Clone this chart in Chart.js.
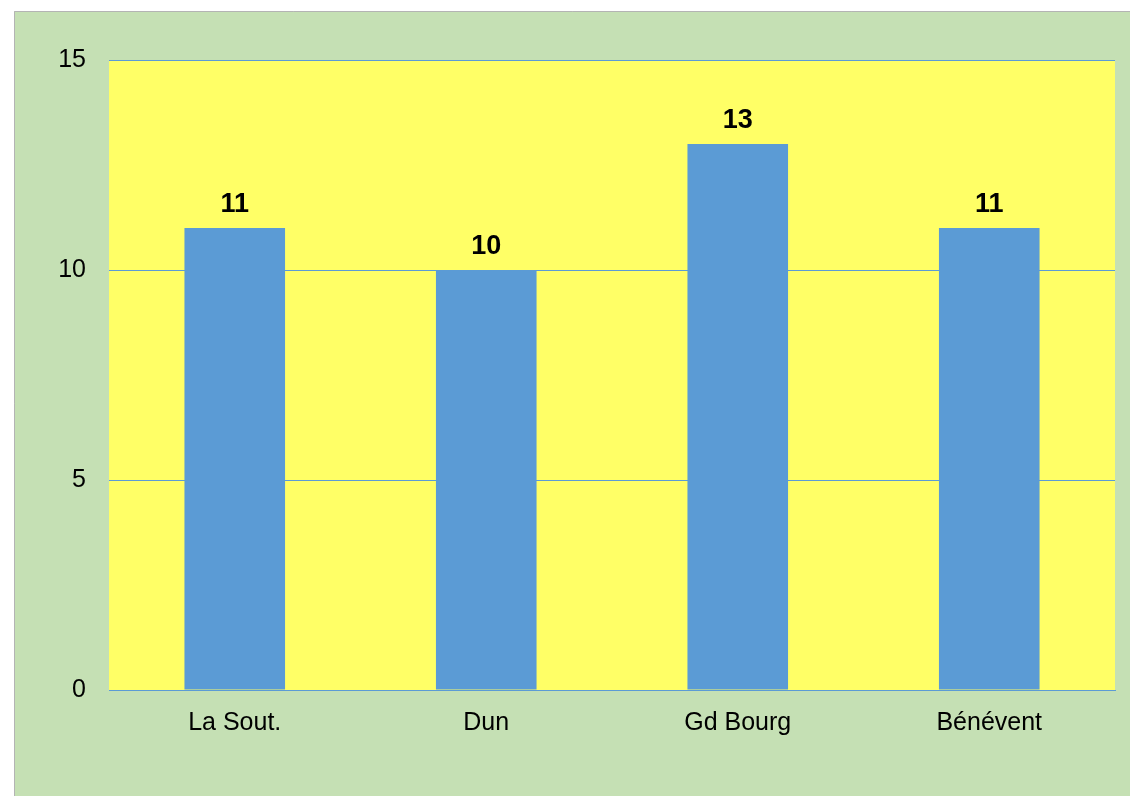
<!DOCTYPE html>
<html>
<head>
<meta charset="utf-8">
<script src="https://cdn.jsdelivr.net/npm/chart.js@4.4.0/dist/chart.umd.min.js"></script>
<style>
    html, body { margin: 0; padding: 0; background: #ffffff; }
    #wrap { position: relative; width: 1130px; height: 796px; }
</style>
</head>
<body>
<div id="wrap"><canvas id="chart" width="1130" height="796"></canvas></div>
<script>
const categories = ['La Sout.', 'Dun', 'Gd Bourg', 'Bénévent'];
const values = [11, 10, 13, 11];
const yTicks = [0, 5, 10, 15];

// green panel + yellow plot area
const backgrounds = {
    id: 'backgrounds',
    beforeDraw(chart) {
        const ctx = chart.ctx;
        const a = chart.chartArea;
        ctx.save();
        ctx.fillStyle = '#c5e0b4';
        ctx.fillRect(14, 11, chart.width - 14, chart.height - 11);
        ctx.strokeStyle = '#b4b4b4';
        ctx.lineWidth = 1;
        ctx.beginPath();
        ctx.moveTo(14.5, chart.height);
        ctx.lineTo(14.5, 11.5);
        ctx.lineTo(chart.width, 11.5);
        ctx.stroke();
        ctx.fillStyle = '#ffff66';
        ctx.fillRect(a.left, a.top, a.right - a.left, a.bottom - a.top);
        ctx.restore();
    }
};

// value labels over the bars
const valueLabels = {
    id: 'valueLabels',
    afterDatasetsDraw(chart) {
        const ctx = chart.ctx;
        const meta = chart.getDatasetMeta(0);
        ctx.save();
        ctx.font = 'bold 27px "Liberation Sans", Arial, sans-serif';
        ctx.fillStyle = '#000000';
        ctx.textAlign = 'center';
        ctx.textBaseline = 'alphabetic';
        meta.data.forEach(function(bar, i) {
            ctx.fillText(String(values[i]), bar.x, bar.y - 16);
        });
        ctx.restore();
    }
};

const data = {
    labels: categories,
    datasets: [{
        data: values,
        backgroundColor: '#5b9bd5',
        borderWidth: 0,
        categoryPercentage: 0.4,
        barPercentage: 1.0
    }]
};

const config = {
    type: 'bar',
    data: data,
    plugins: [backgrounds, valueLabels],
    options: {
        responsive: false,
        animation: false,
        layout: {
            padding: { left: 0, top: 60, right: 15, bottom: 0 }
        },
        plugins: {
            legend: { display: false },
            tooltip: { enabled: false }
        },
        scales: {
            x: {
                grid: { display: false, drawTicks: false },
                border: { display: true, color: '#5b9bd5', width: 1 },
                ticks: {
                    color: '#000000',
                    padding: 18,
                    maxRotation: 0,
                    font: { family: '"Liberation Sans", Arial, sans-serif', size: 25 }
                },
                afterFit: function(scale) { scale.height = 106; }
            },
            y: {
                min: 0,
                max: 15,
                afterBuildTicks: function(scale) {
                    scale.ticks = yTicks.map(v => ({ value: v }));
                },
                grid: { color: '#5b9bd5', lineWidth: 1, drawTicks: false },
                border: { display: false },
                ticks: {
                    color: '#000000',
                    padding: 23,
                    font: { family: '"Liberation Sans", Arial, sans-serif', size: 25 }
                },
                afterFit: function(scale) { scale.width = 109; }
            }
        }
    }
};

let chart = new Chart(document.getElementById('chart'), config);
</script>
</body>
</html>
